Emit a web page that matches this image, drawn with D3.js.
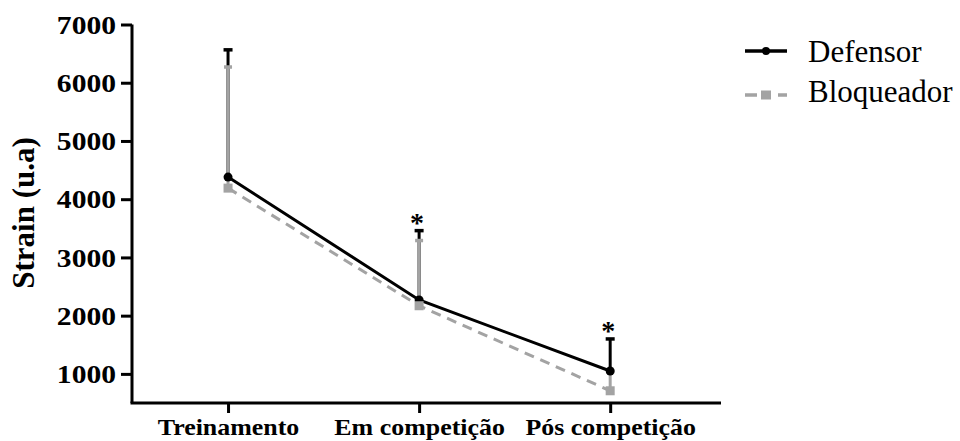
<!DOCTYPE html>
<html>
<head>
<meta charset="utf-8">
<script src="https://cdn.jsdelivr.net/npm/d3@7"></script>
<style>
  html, body { margin: 0; padding: 0; background: #fff; }
  svg { display: block; }
  text { font-family: "Liberation Serif", "Times New Roman", serif; }
</style>
</head>
<body>
<svg id="chart" width="960" height="441"></svg>
<script>
const categories = ["Treinamento", "Em competição", "Pós competição"];
const defensorMean = [4380, 2270, 1050];
const defensorSD = [2185, 1190, 550];
const bloqueadorMean = [4190, 2170, 710];
const bloqueadorSD = [2080, 1120, 320];
const significant = [false, true, true];
const yTicks = [1000, 2000, 3000, 4000, 5000, 6000, 7000];
const seriesNames = ["Defensor", "Bloqueador"];

const black = "#000";
const gray = "#a3a3a3";

const svg = d3.select("#chart");
const x = d3.scaleLinear().domain([-0.5, 2.58]).range([132.5, 721]);
const y = d3.scaleLinear().domain([500, 7000]).range([403, 24.5]);
const X0 = 132;

// Y axis
const yAxis = d3.axisLeft(y).tickValues(yTicks).tickSize(11).tickSizeOuter(0).tickPadding(5).tickFormat(d3.format("d"));
const gy = svg.append("g").attr("transform", `translate(${X0},0)`).call(yAxis);
gy.select(".domain").attr("stroke", black).attr("stroke-width", 3).attr("d", `M0,${y(7000)}V${y(500)}`);
gy.selectAll(".tick line").attr("stroke", black).attr("stroke-width", 3);
gy.selectAll(".tick text")
  .attr("fill", black).attr("font-size", 25.5).attr("font-weight", "bold")
  .attr("font-family", "Liberation Serif, Times New Roman, serif")
  .attr("dy", "0.34em")
  .each(function() {
    const t = d3.select(this);
    const xx = +t.attr("x");
    t.attr("x", null).attr("transform", `translate(${xx},0) scale(1.16,1)`);
  });

// X axis
const xAxis = d3.axisBottom(x).tickValues([0, 1, 2]).tickSize(10).tickSizeOuter(0).tickPadding(5).tickFormat(i => categories[i]);
const gx = svg.append("g").attr("transform", `translate(0,${y(500)})`).call(xAxis);
gx.select(".domain").attr("stroke", black).attr("stroke-width", 3).attr("d", `M${X0 - 1.5},0H${x.range()[1]}`);
gx.selectAll(".tick line").attr("stroke", black).attr("stroke-width", 3);
gx.selectAll(".tick text")
  .attr("fill", black).attr("font-size", 24).attr("font-weight", "bold")
  .attr("font-family", "Liberation Serif, Times New Roman, serif")
  .attr("dy", "0.71em")
  .each(function() {
    const t = d3.select(this);
    const yy = +t.attr("y");
    t.attr("y", null).attr("transform", `translate(0,${yy}) scale(1.08,1)`);
  });

// Y title
svg.append("text")
  .attr("transform", `translate(34,${213}) rotate(-90)`)
  .attr("text-anchor", "middle")
  .attr("font-size", 31).attr("font-weight", "bold").attr("fill", black)
  .text("Strain (u.a)");

const idx = d3.range(categories.length);

// Lines
svg.append("path")
  .attr("d", d3.line().x(i => x(i)).y(i => y(defensorMean[i]))(idx))
  .attr("fill", "none").attr("stroke", black).attr("stroke-width", 3);
svg.append("path")
  .attr("d", d3.line().x(i => x(i)).y(i => y(bloqueadorMean[i]))(idx))
  .attr("fill", "none").attr("stroke", gray).attr("stroke-width", 3)
  .attr("stroke-dasharray", "10,7");

// Error bars
function errorBars(mean, sd, color, capW) {
  const g = svg.append("g").attr("stroke", color).attr("stroke-width", 3);
  idx.forEach(i => {
    const cx = x(i);
    g.append("line").attr("x1", cx).attr("x2", cx)
      .attr("y1", y(mean[i])).attr("y2", y(mean[i] + sd[i]));
    g.append("line").attr("x1", cx - capW / 2).attr("x2", cx + capW / 2)
      .attr("y1", y(mean[i] + sd[i])).attr("y2", y(mean[i] + sd[i]))
      .attr("stroke-width", 3.5);
  });
}
errorBars(defensorMean, defensorSD, black, 9);
errorBars(bloqueadorMean, bloqueadorSD, gray, 8);

// Markers
svg.append("g").selectAll("circle").data(idx).join("circle")
  .attr("cx", i => x(i)).attr("cy", i => y(defensorMean[i])).attr("r", 4.5).attr("fill", black);
svg.append("g").selectAll("rect").data(idx).join("rect")
  .attr("x", i => x(i) - 4.5).attr("y", i => y(bloqueadorMean[i]) - 4.5)
  .attr("width", 9).attr("height", 9).attr("fill", gray);

// Significance stars
svg.append("g").selectAll("text").data(idx.filter(i => significant[i])).join("text")
  .attr("x", i => x(i) - 2).attr("y", i => y(defensorMean[i] + defensorSD[i]) + 1)
  .attr("text-anchor", "middle").attr("font-size", 28).attr("font-weight", "bold").attr("fill", black)
  .text("*");

// Legend
const lg = svg.append("g");
lg.append("line").attr("x1", 745).attr("x2", 787).attr("y1", 51).attr("y2", 51).attr("stroke", black).attr("stroke-width", 3.5);
lg.append("circle").attr("cx", 766).attr("cy", 51).attr("r", 4).attr("fill", black);
lg.append("line").attr("x1", 745).attr("x2", 787).attr("y1", 95).attr("y2", 95).attr("stroke", gray).attr("stroke-width", 3.5)
  .attr("stroke-dasharray", "12,21,9,0");
lg.append("rect").attr("x", 761).attr("y", 90.5).attr("width", 10).attr("height", 9).attr("fill", gray);
lg.append("text").attr("x", 808).attr("y", 62).attr("font-size", 31).attr("fill", black).text(seriesNames[0]);
lg.append("text").attr("x", 808).attr("y", 102).attr("font-size", 31).attr("fill", black).text(seriesNames[1]);
</script>
</body>
</html>
